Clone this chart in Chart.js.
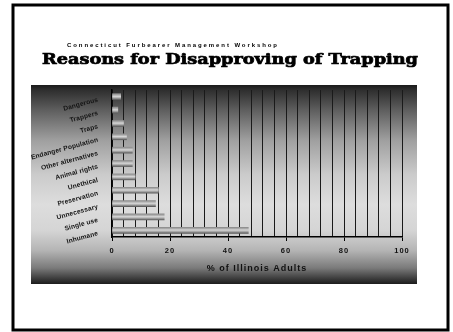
<!DOCTYPE html>
<html>
<head>
<meta charset="utf-8">
<script src="https://cdn.jsdelivr.net/npm/chart.js@4"></script>
<style>
  html, body { margin: 0; padding: 0; background: #fff; }
  #wrap { width: 453px; height: 332px; position: relative; }
</style>
</head>
<body>
<div id="wrap"><canvas id="c"></canvas></div>
<script>
const supTitle = "Connecticut Furbearer Management Workshop";
const mainTitle = "Reasons for Disapproving of Trapping";
const axisTitle = "% of Illinois Adults";
const categories = ["Dangerous", "Trappers", "Traps", "Endanger Population", "Other alternatives",
  "Animal rights", "Unethical", "Preservation", "Unnecessary", "Single use", "Inhumane"];
const percentAdults = [3, 2, 4, 5, 7, 7, 8, 16, 15, 18, 47];
const labeledTicks = [0, 20, 40, 60, 80, 100];

const framePlugin = {
  id: 'frame',
  beforeLayout(chart) {
    const patch = (scale, spacing) => {
      if (!scale || scale._lsPatched) return;
      const orig = scale.drawLabels.bind(scale);
      scale.drawLabels = function (area) {
        const c = this.ctx; const prev = c.letterSpacing;
        c.letterSpacing = spacing; orig(area); c.letterSpacing = prev || '0px';
      };
      const origT = scale.drawTitle.bind(scale);
      scale.drawTitle = function () {
        const c = this.ctx; const prev = c.letterSpacing;
        c.letterSpacing = '1px'; origT(); c.letterSpacing = prev || '0px';
      };
      scale._lsPatched = true;
    };
    patch(chart.scales.x, '1px');
    patch(chart.scales.y, '0.15px');
  },
  beforeDraw(chart) {
    const ctx = chart.ctx;
    ctx.save();
    ctx.fillStyle = '#fff';
    ctx.fillRect(0, 0, chart.width, chart.height);
    const g = ctx.createLinearGradient(0, 85, 0, 284);
    g.addColorStop(0, '#1a1a1a');
    g.addColorStop(0.025, '#2e2e2e');
    g.addColorStop(0.13, '#606060');
    g.addColorStop(0.28, '#a0a0a0');
    g.addColorStop(0.45, '#cbcbcb');
    g.addColorStop(0.6, '#dddddd');
    g.addColorStop(0.73, '#d5d5d5');
    g.addColorStop(0.83, '#b5b5b5');
    g.addColorStop(0.92, '#7a7a7a');
    g.addColorStop(1, '#1c1c1c');
    ctx.fillStyle = g;
    ctx.fillRect(31, 85, 386, 199);
    ctx.strokeStyle = '#000';
    ctx.lineWidth = 3;
    ctx.strokeRect(13, 5, 435, 325);
    ctx.fillStyle = '#000';
    ctx.textBaseline = 'alphabetic';
    ctx.textAlign = 'left';
    ctx.font = 'bold 6px "Liberation Sans", Arial, sans-serif';
    ctx.letterSpacing = '0px';
    const w0 = ctx.measureText(supTitle).width;
    const sp = (210 - w0) / (supTitle.length - 1);
    ctx.letterSpacing = sp.toFixed(2) + 'px';
    ctx.fillText(supTitle, 67, 47);
    ctx.letterSpacing = '0px';
    ctx.font = 'bold 15px "DejaVu Serif", "Liberation Serif", serif';
    const w1 = ctx.measureText(mainTitle).width;
    ctx.translate(42, 63.5);
    ctx.scale(376 / w1, 1);
    ctx.fillText(mainTitle, 0, 0);
    ctx.strokeStyle = '#000';
    ctx.lineWidth = 0.7;
    ctx.strokeText(mainTitle, 0, 0);
    ctx.restore();
  }
};

const barFill = (context) => {
  const chart = context.chart;
  if (!chart.chartArea || !chart.scales.y) return '#aaaaaa';
  const y = chart.scales.y.getPixelForValue(context.dataIndex);
  const g = chart.ctx.createLinearGradient(0, y - 3, 0, y + 3);
  g.addColorStop(0, '#8c8c8c');
  g.addColorStop(0.2, '#a8a8a8');
  g.addColorStop(0.45, '#d6d6d6');
  g.addColorStop(0.65, '#b4b4b4');
  g.addColorStop(1, '#5c5c5c');
  return g;
};

new Chart(document.getElementById('c'), {
  type: 'bar',
  data: {
    labels: categories,
    datasets: [{
      data: percentAdults,
      backgroundColor: barFill,
      borderWidth: 0,
      barThickness: 6
    }]
  },
  options: {
    indexAxis: 'y',
    responsive: true,
    maintainAspectRatio: false,
    animation: false,
    devicePixelRatio: 1,
    layout: { padding: { left: 0, right: 51, top: 90, bottom: 48 } },
    plugins: { legend: { display: false }, tooltip: { enabled: false }, title: { display: false } },
    scales: {
      x: {
        min: 0, max: 100,
        afterFit(scale) { scale.height = 47; },
        ticks: {
          stepSize: 4,
          autoSkip: false,
          maxRotation: 0,
          padding: 5,
          color: '#111',
          font: { family: '"Liberation Sans", Arial, sans-serif', size: 7.5, weight: 'bold' },
          callback: (v) => labeledTicks.includes(v) ? String(v) : ''
        },
        grid: {
          color: '#1a1a1a',
          lineWidth: 1,
          tickLength: 4,
          tickColor: (c) => (c.tick && labeledTicks.includes(c.tick.value)) ? '#000' : 'rgba(0,0,0,0)'
        },
        border: { display: true, color: '#000', width: 1.5 },
        title: {
          display: true,
          text: axisTitle,
          color: '#111',
          font: { family: '"Liberation Sans", Arial, sans-serif', size: 9, weight: 'bold' },
          padding: { top: 0, bottom: 10 }
        }
      },
      y: {
        afterFit(scale) { scale.width = 112; },
        ticks: {
          minRotation: 15,
          maxRotation: 15,
          padding: 6,
          labelOffset: 3,
          autoSkip: false,
          color: '#151515',
          font: { family: '"Liberation Sans", Arial, sans-serif', size: 6.6, weight: 'bold' }
        },
        grid: { display: false },
        border: { display: true, color: '#000', width: 1.5 }
      }
    }
  },
  plugins: [framePlugin]
});
</script>
</body>
</html>
